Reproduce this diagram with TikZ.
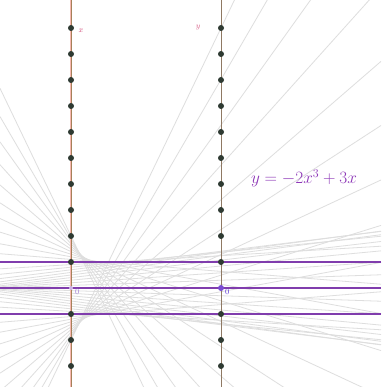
\documentclass[tikz,border=0pt]{standalone}
\usepackage{amsmath}
\definecolor{axred}{HTML}{F6B8B0}
\definecolor{hlinepurple}{rgb}{0.50,0.24,0.68}
\definecolor{eqcol}{HTML}{8E38B8}
\definecolor{dotc}{HTML}{2E3A32}
\begin{document}
\begin{tikzpicture}[x=1pt,y=1pt,
  gl/.style={draw=black!13,line width=0.8pt},
  hline/.style={draw=hlinepurple,line width=1.1pt},
  dotn/.style={circle,fill=dotc,inner sep=0pt,minimum size=6pt}]
\useasboundingbox (0,0) rectangle (381,387);
\fill[white] (0,0) rectangle (381,387);
\begin{scope}
\clip (0,0) rectangle (381,387);
\foreach \i in {-20,...,20}{
  \pgfmathsetmacro\xv{\i/10}
  \pgfmathsetmacro\fv{-2*\xv*\xv*\xv+3*\xv}
  \pgfmathsetmacro\sl{26*(\fv-\xv)/150}
  \pgfmathsetmacro\ya{99+26*\xv-\sl*71}
  \pgfmathsetmacro\yb{99+26*\xv+\sl*310}
  \draw[gl] (0,\ya) -- (381,\yb);
}
\end{scope}
% axes
\coordinate (xa0) at (71,0); \coordinate (xa1) at (71,387);
\coordinate (ya0) at (221,0); \coordinate (ya1) at (221,387);
\draw[draw=axred,line width=2.6pt] (xa0) -- (xa1);
\draw[draw=brown!60!gray,line width=0.3pt] (xa0) -- (xa1);
\draw[draw=brown!50!black!70,line width=0.9pt] (ya0) -- (ya1);
% horizontal lines
\coordinate (ha0) at (0,125); \coordinate (ha1) at (381,125);
\coordinate (hb0) at (0,99);  \coordinate (hb1) at (381,99);
\coordinate (hc0) at (0,73);  \coordinate (hc1) at (381,73);
\draw[hline] (ha0) -- (ha1);
\draw[hline] (hb0) -- (hb1);
\draw[hline] (hc0) -- (hc1);
% dots
\foreach \k in {-3,...,10}{
  \ifnum\k=0\relax\else
  \node[dotn] (dx\k) at (71,{99+26*\k}) {};
  \node[dotn] (dy\k) at (221,{99+26*\k}) {};
  \fi
}
\node[circle,fill=blue!50!violet!70,inner sep=0pt,minimum size=6pt] (oy) at (221,99) {};
\node[circle,fill=blue!30!violet!30,inner sep=0pt,minimum size=4pt] (ox) at (71,99) {};
\node[font=\footnotesize,text=blue!60!violet!80,anchor=north west,inner sep=1pt] (oyl) at (224,99) {$0$};
\node[font=\footnotesize,text=blue!40!violet!50,anchor=north west,inner sep=1pt] (oxl) at (74,99) {$0$};
% labels
\node[font=\footnotesize,text=purple!70] (xl) at (81,356) {$x$};
\node[font=\footnotesize,text=purple!60] (yl) at (198,359) {$y$};
\node[font=\fontsize{18.5}{20}\selectfont,text=eqcol] (eq) at (304,209) {$y=-2x^{3}+3x$};
\end{tikzpicture}
\end{document}
